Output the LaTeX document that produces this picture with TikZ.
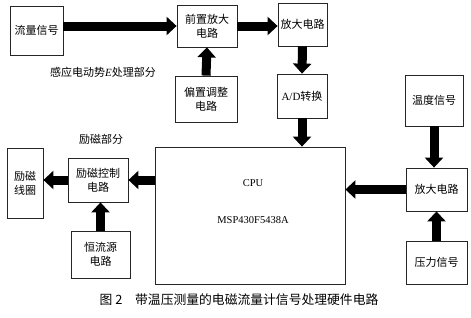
\documentclass[tikz,border=0pt]{standalone}
\usepackage{fontspec}
\setmainfont{Liberation Serif}
\newfontfamily\cjk{Noto Sans CJK SC}
\usetikzlibrary{arrows.meta,positioning}
\tikzset{
  blk/.style={draw=black!85,line width=0.8pt,align=center,font=\cjk\fontsize{11}{14}\selectfont,
              inner sep=1pt,fill=white},
  barr/.style={-{Triangle[length=10pt,width=18pt]},line width=9pt,black},
  lbl/.style={font=\cjk\fontsize{11}{14}\selectfont,inner sep=0pt},
}
\begin{document}
\begin{tikzpicture}[x=1pt,y=-1pt]
  \useasboundingbox (0,0) rectangle (471,317);
  % signal path for the flow signal
  \node[blk,minimum width=53pt,minimum height=49pt] (flow) at (36.5,30.5) {流量信号};
  \node[blk,minimum width=60pt,minimum height=42pt] (pre)  at (207,26) {前置放大\\电路};
  \node[blk,minimum width=49pt,minimum height=43pt] (amp1) at (302.5,24.5) {放大电路};
  \node[blk,minimum width=62pt,minimum height=46pt] (bias) at (206,99) {偏置调整\\电路};
  \node[blk,minimum width=50pt,minimum height=44pt] (ad)   at (302,96) {{\rmfamily A/D}转换};
  \node[lbl] (lblE) at (103,72) {感应电动势{\rmfamily\itshape E}处理部分};
  % CPU
  \node[draw=black!85,line width=0.8pt,minimum width=190pt,minimum height=137pt] (cpu) at (250,215.5) {};
  \node[font=\fontsize{10.5}{12}\selectfont,inner sep=0pt] (cpuname) at (253,183) {CPU};
  \node[font=\fontsize{10.5}{12}\selectfont,inner sep=0pt] (cputype) at (253,220) {MSP430F5438A};
  % temperature and pressure
  \node[blk,minimum width=58pt,minimum height=51pt] (temp) at (434,100.5) {温度信号};
  \node[blk,minimum width=61pt,minimum height=43pt] (amp2) at (436.5,189.5) {放大电路};
  \node[blk,minimum width=61pt,minimum height=43pt] (pres) at (436.5,262.5) {压力信号};
  % excitation part
  \node[lbl] (lblX) at (101,139) {励磁部分};
  \node[blk,minimum width=36pt,minimum height=70pt] (coil) at (25,183) {励磁\\线圈};
  \node[blk,minimum width=60pt,minimum height=44pt] (exc)  at (98,180) {励磁控制\\电路};
  \node[blk,minimum width=59pt,minimum height=47pt] (cur)  at (100.5,254.5) {恒流源\\电路};
  % arrows
  \draw[barr] (flow.east |- pre.west) -- (pre.west);
  \draw[barr] (pre.east) -- (amp1.west |- pre.east);
  \draw[barr] (bias.north) -- (pre.south);
  \draw[barr] (amp1.south) -- (ad.north);
  \draw[barr] (ad.south) -- (ad.south |- cpu.north);
  \draw[barr] (temp.south) -- (temp.south |- amp2.north);
  \draw[barr] (pres.north) -- (pres.north |- amp2.south);
  \draw[barr] (amp2.west) -- (amp2.west -| cpu.east);
  \draw[barr] (cpu.west |- exc.east) -- (exc.east);
  \draw[barr] (exc.west) -- (coil.east |- exc.west);
  \draw[barr] (cur.north) -- (cur.north |- exc.south);
  % caption
  \node[font=\cjk\fontsize{12.8}{15}\selectfont,inner sep=0pt] (cap) at (239,300) {图 2\quad 带温压测量的电磁流量计信号处理硬件电路};
\end{tikzpicture}
\end{document}
